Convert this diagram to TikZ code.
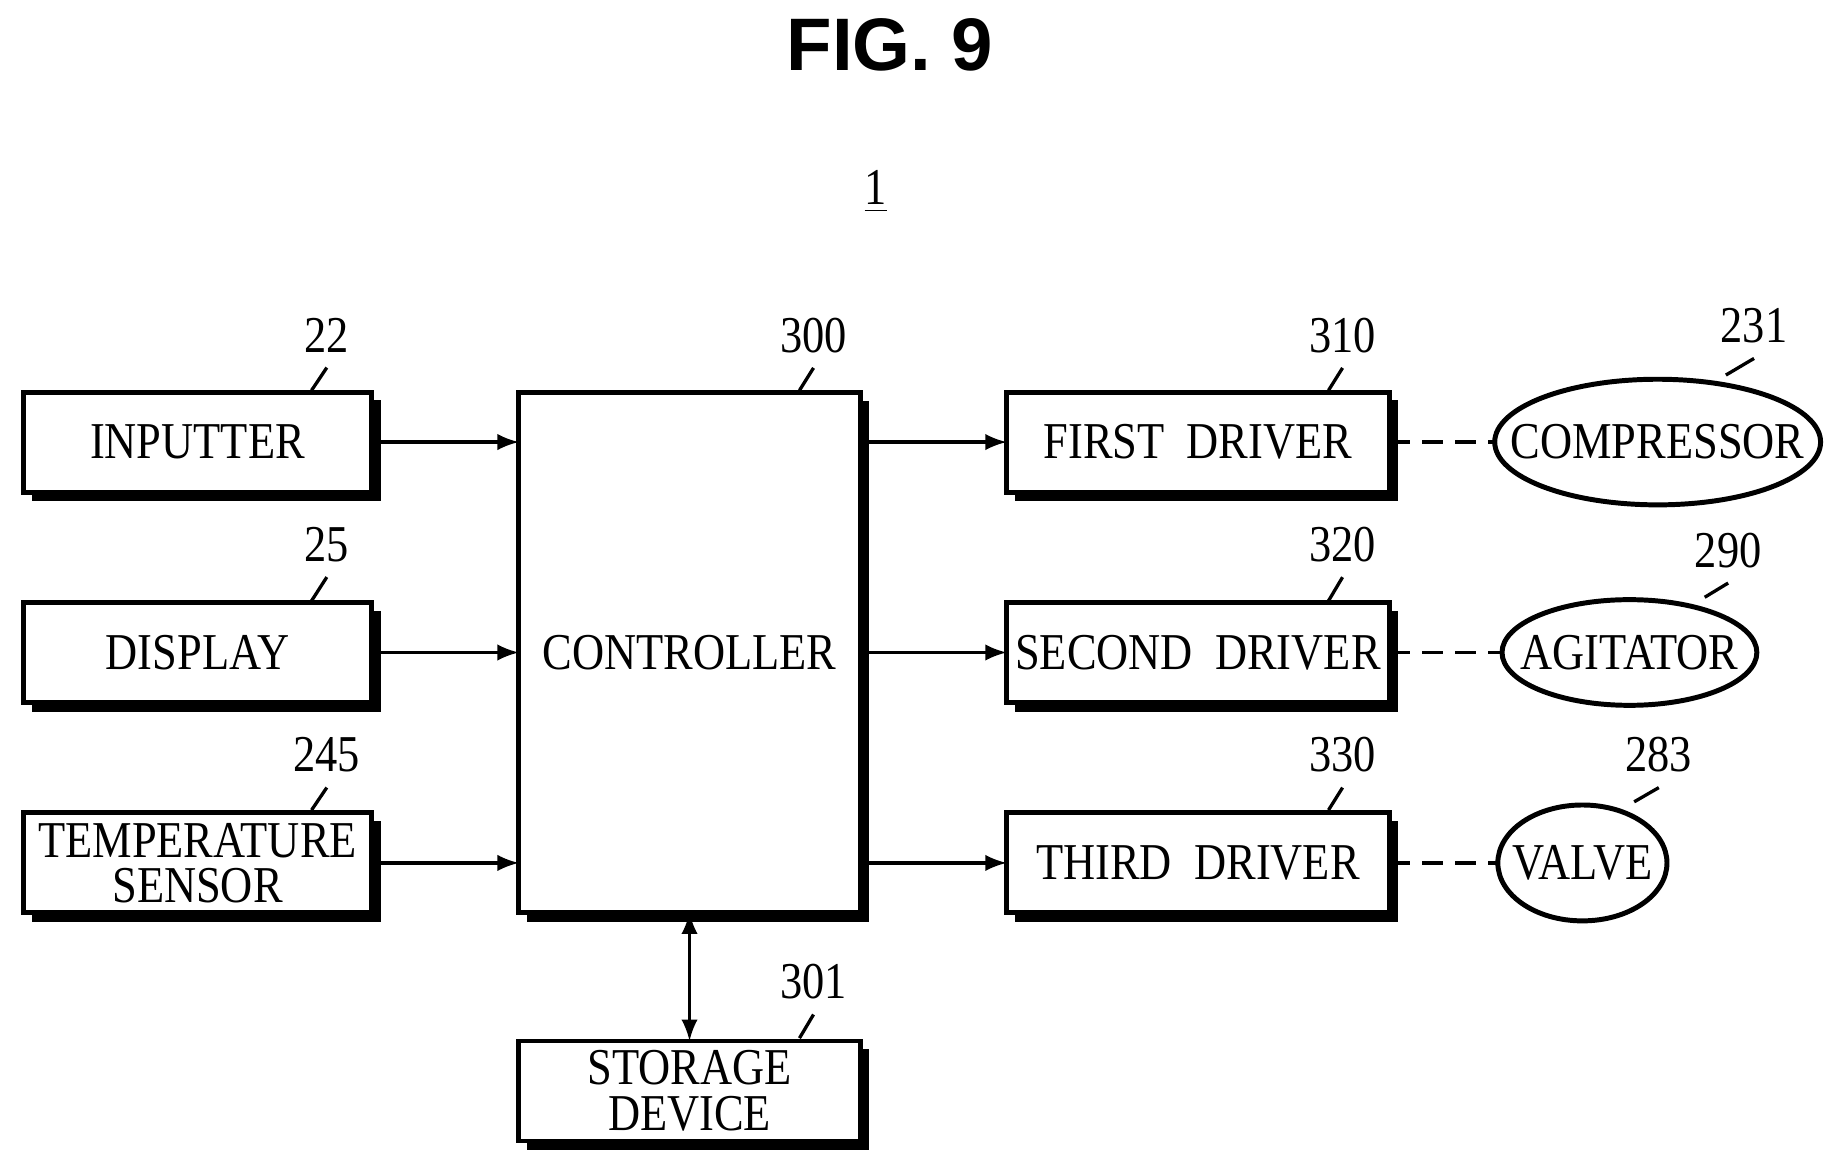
\documentclass[tikz,border=0pt]{standalone}
\usepackage{fontspec}
\setmainfont[FakeStretch=0.86]{Liberation Serif}
\newfontfamily\titlefont{Liberation Sans}
\usetikzlibrary{positioning,shapes.geometric}
\tikzset{
  blk/.style={draw,line width=1.2pt,minimum width=2.96cm,minimum height=0.85cm,align=center,
    font=\fontsize{12.5}{11}\selectfont,inner sep=0pt,outer sep=0pt},
  shd/.style={line width=1.6pt},
  ell/.style={draw,ellipse,line width=1.2pt,outer sep=0pt,font=\fontsize{12.5}{11}\selectfont},
  num/.style={font=\fontsize{12.5}{11}\selectfont},
  lead/.style={line width=0.8pt},
  link/.style={dash pattern=on 5pt off 3pt}
}
\newcommand{\shadowbox}[1]{\draw[shd] ([xshift=1.4pt,yshift=-2pt]#1.north east) -- ([xshift=1.4pt,yshift=-1.4pt]#1.south east) -- ([xshift=2pt,yshift=-1.4pt]#1.south west);}
\newcommand{\leader}[2]{\draw[lead] (#1) .. controls +(-0.02,-0.12) and +(0.1,0.05) .. (#2);}
\begin{document}
\begin{tikzpicture}[>=latex,thick,x=0.01cm,y=-0.01cm]
\useasboundingbox (0,0) rectangle (1560,987);
\node[font=\titlefont\bfseries\fontsize{18}{18}\selectfont] (title) at (757,38) {FIG. 9};
\node[num] (sys) at (745,163) {\underline{1}};
% left column
\node[blk] (inp) at (168,376) {INPUTTER};
\node[blk] (disp) at (168,555) {DISPLAY};
\node[blk] (temp) at (168,734) {TEMPERATURE\\SENSOR};
% controller and storage
\node[blk,minimum width=2.9cm,minimum height=4.42cm] (ctrl) at (586.5,555) {CONTROLLER};
\node[blk,minimum width=2.9cm] (stor) at (586.5,928) {STORAGE\\DEVICE};
% drivers
\node[blk,minimum width=3.25cm] (drv1) at (1019,376) {FIRST\ \ DRIVER};
\node[blk,minimum width=3.25cm] (drv2) at (1019,555) {SECOND\ \ DRIVER};
\node[blk,minimum width=3.25cm] (drv3) at (1019,734) {THIRD\ \ DRIVER};
% loads
\node[ell,inner xsep=-0.27cm,inner ysep=0.23cm] (comp) at (1410,376) {COMPRESSOR};
\node[ell,inner xsep=-0.16cm,inner ysep=0.17cm] (agit) at (1386,555) {AGITATOR};
\node[ell,inner xsep=-0.09cm,inner ysep=0.2cm] (valve) at (1346,734) {VALVE};
\foreach \b in {inp,disp,temp,ctrl,stor,drv1,drv2,drv3}{\shadowbox{\b}}
% connections
\draw[->] (inp) -- (ctrl.west |- inp);
\draw[->] (disp) -- (ctrl.west |- disp);
\draw[->] (temp) -- (ctrl.west |- temp);
\draw[->] (ctrl.east |- drv1) -- (drv1);
\draw[->] (ctrl.east |- drv2) -- (drv2);
\draw[->] (ctrl.east |- drv3) -- (drv3);
\draw[<->] (ctrl) -- (stor);
\draw[link] (drv1) -- (comp);
\draw[link] (drv2) -- (agit);
\draw[link] (drv3) -- (valve);
% reference numerals
\node[num] (n22) at (278,285) {22};
\node[num] (n25) at (278,463) {25};
\node[num] (n245) at (278,642) {245};
\node[num] (n300) at (692,285) {300};
\node[num] (n301) at (692,835) {301};
\node[num] (n310) at (1142,285) {310};
\node[num] (n320) at (1142,463) {320};
\node[num] (n330) at (1142,642) {330};
\node[num] (n231) at (1492,277) {231};
\node[num] (n290) at (1470,468) {290};
\node[num] (n283) at (1411,642) {283};
\leader{n22.south}{265,332}
\leader{n25.south}{265,511}
\leader{n245.south}{265,689}
\leader{n300.south}{680,332}
\leader{n301.south}{680,883}
\leader{n310.south}{1130,332}
\leader{n320.south}{1130,511}
\leader{n330.south}{1130,689}
\leader{n231.south}{1468,319}
\leader{n290.south}{1450,508}
\leader{n283.south}{1390,682}
\end{tikzpicture}
\end{document}
